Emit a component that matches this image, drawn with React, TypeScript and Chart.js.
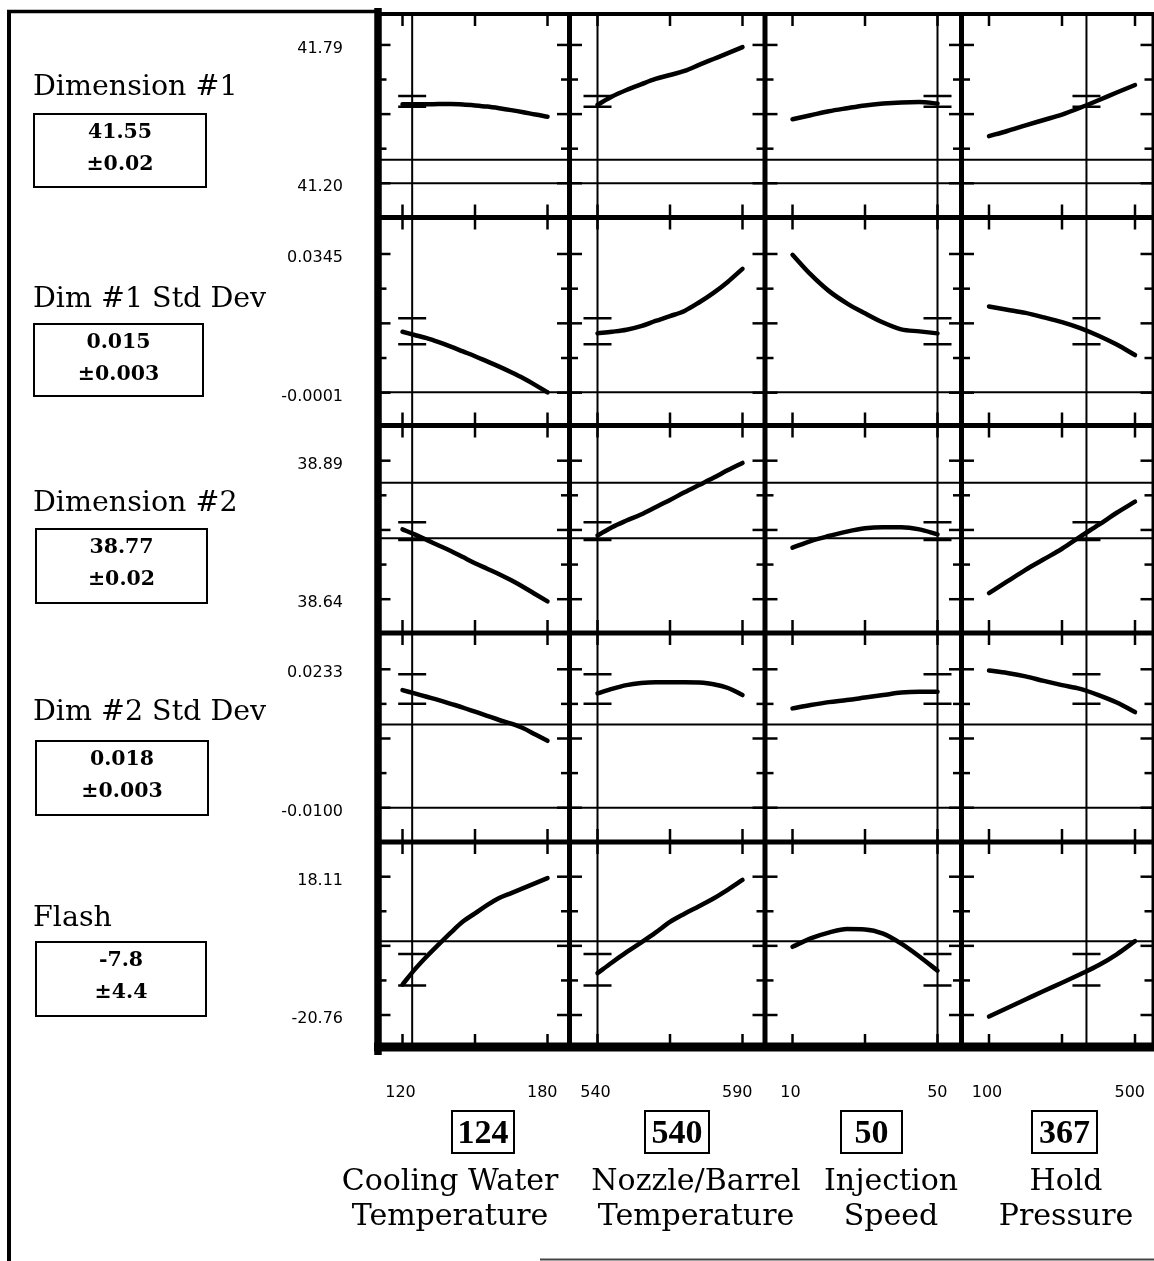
import React, { useEffect, useRef } from 'react';
import { Chart, registerables } from 'chart.js';

Chart.register(...registerables);

// ---------------- data ----------------
const responseNames = ['Dimension #1', 'Dim #1 Std Dev', 'Dimension #2', 'Dim #2 Std Dev', 'Flash'];
const predictedText = ['41.55', '0.015', '38.77', '0.018', '-7.8'];
const intervalText = ['±0.02', '±0.003', '±0.02', '±0.003', '±4.4'];
const yTopLabels = ['41.79', '0.0345', '38.89', '0.0233', '18.11'];
const yBottomLabels = ['41.20', '-0.0001', '38.64', '-0.0100', '-20.76'];
const yTopValues = [41.79, 0.0345, 38.89, 0.0233, 18.11];
const yBottomValues = [41.2, -0.0001, 38.64, -0.01, -20.76];
const yAxisMin = [41.054, -0.00828, 38.579, -0.01825, -29.75];
const yAxisMax = [41.922, 0.0436, 38.9535, 0.03203, 27.86];
const responseRefLines = [[41.3, 41.2], [0], [38.85, 38.75], [0.01, -0.01], [0]];
const ciUpper = [41.572, 0.0185, 38.779, 0.0221, -3.6];
const ciLower = [41.526, 0.012, 38.747, 0.015, -12.5];

const factorNames = [
  ['Cooling Water', 'Temperature'],
  ['Nozzle/Barrel', 'Temperature'],
  ['Injection', 'Speed'],
  ['Hold', 'Pressure'],
];
const factorCurrent = [124, 540, 50, 367];
const factorTicks = [[120, 150, 180], [540, 565, 590], [10, 30, 50], [100, 300, 500]];
const factorTickLabels = [['120', '180'], ['540', '590'], ['10', '50'], ['100', '500']];
const xAxisMin = [109.86, 530.34, 2.41, 24.66];
const xAxisMax = [189.1, 597.76, 56.62, 549.3];

const xCooling = [120, 125, 130, 135, 140, 145, 150, 155, 160, 165, 170, 175, 180];
const xNozzle = [540, 545, 550, 555, 560, 565, 570, 575, 580, 585, 590];
const xSpeed = [10, 15, 20, 25, 30, 35, 40, 45, 50];
const xHold = [100, 150, 200, 250, 300, 350, 400, 450, 500];

const dim1Cooling = [41.537, 41.537, 41.537, 41.538, 41.538, 41.536, 41.532, 41.527, 41.52, 41.512, 41.503, 41.493, 41.484];
const dim1Nozzle = [41.535, 41.57, 41.598, 41.622, 41.645, 41.662, 41.679, 41.705, 41.73, 41.755, 41.781];
const dim1Speed = [41.473, 41.49, 41.507, 41.52, 41.532, 41.54, 41.545, 41.547, 41.54];
const dim1Hold = [41.401, 41.423, 41.447, 41.47, 41.493, 41.522, 41.554, 41.587, 41.619];

const sd1Cooling = [0.0151, 0.0143, 0.0135, 0.0125, 0.0114, 0.0102, 0.009, 0.0077, 0.0064, 0.005, 0.0035, 0.0018, 0.0];
const sd1Nozzle = [0.0147, 0.0151, 0.0156, 0.0165, 0.0178, 0.019, 0.0203, 0.0224, 0.0248, 0.0276, 0.0308];
const sd1Speed = [0.0343, 0.0294, 0.0253, 0.0222, 0.0197, 0.0174, 0.0157, 0.0152, 0.0147];
const sd1Hold = [0.0214, 0.0206, 0.0198, 0.0187, 0.0175, 0.016, 0.0141, 0.0119, 0.0093];

const dim2Cooling = [38.766, 38.757, 38.747, 38.737, 38.727, 38.716, 38.705, 38.695, 38.685, 38.674, 38.662, 38.649, 38.636];
const dim2Nozzle = [38.755, 38.77, 38.782, 38.793, 38.806, 38.819, 38.833, 38.846, 38.859, 38.873, 38.886];
const dim2Speed = [38.733, 38.745, 38.754, 38.762, 38.768, 38.77, 38.77, 38.766, 38.757];
const dim2Hold = [38.651, 38.672, 38.693, 38.712, 38.731, 38.753, 38.774, 38.796, 38.816];

const sd2Cooling = [0.0183, 0.0175, 0.0167, 0.0159, 0.015, 0.0141, 0.0131, 0.0121, 0.0111, 0.0102, 0.0091, 0.0076, 0.0061];
const sd2Nozzle = [0.0175, 0.0186, 0.0195, 0.02, 0.0202, 0.0202, 0.0202, 0.0201, 0.0197, 0.0188, 0.0171];
const sd2Speed = [0.0139, 0.0147, 0.0154, 0.0159, 0.0165, 0.0171, 0.0177, 0.0179, 0.0179];
const sd2Hold = [0.023, 0.0224, 0.0216, 0.0205, 0.0195, 0.0186, 0.0171, 0.0153, 0.013];

const flashCooling = [-12.2, -8.0, -4.3, -0.9, 2.4, 5.5, 7.8, 10.1, 12.1, 13.5, 14.9, 16.3, 17.7];
const flashNozzle = [-9.0, -6.0, -3.1, -0.4, 2.4, 5.4, 7.7, 9.8, 12.0, 14.5, 17.2];
const flashSpeed = [-1.6, 0.8, 2.4, 3.4, 3.3, 2.1, -0.7, -4.3, -8.3];
const flashHold = [-21.2, -18.8, -16.4, -14.0, -11.7, -9.3, -6.8, -3.7, 0.0];

const factorGrids = [xCooling, xNozzle, xSpeed, xHold];
const profiles = [
  [dim1Cooling, dim1Nozzle, dim1Speed, dim1Hold],
  [sd1Cooling, sd1Nozzle, sd1Speed, sd1Hold],
  [dim2Cooling, dim2Nozzle, dim2Speed, dim2Hold],
  [sd2Cooling, sd2Nozzle, sd2Speed, sd2Hold],
  [flashCooling, flashNozzle, flashSpeed, flashHold],
];

// ---------------- layout ----------------
const W = 1154;
const H = 1261;
const PAD = { left: 378, top: 14, right: 1, bottom: 214 };
const ROW_WEIGHTS = [203.5, 208, 207.5, 209, 205];
const COL_WEIGHTS = [191.5, 195.5, 196.5, 191.5];
const LABEL_BASELINES = [96, 308, 512, 721, 927];
const VALUE_BOXES = [
  { x: 33, y: 113, w: 174, h: 75 },
  { x: 33, y: 323, w: 171, h: 74 },
  { x: 35, y: 528, w: 173, h: 76 },
  { x: 35, y: 740, w: 174, h: 76 },
  { x: 35, y: 941, w: 172, h: 76 },
];
const FACTOR_BOXES = [
  { x: 451, w: 64 },
  { x: 644, w: 66 },
  { x: 840, w: 63 },
  { x: 1031, w: 67 },
];
const FACTOR_NAME_CENTERS = [450, 696, 891, 1066];

const profilerPlugin = {
  id: 'profilerFrame',
  beforeDatasetsDraw(chart: any) {
    const ctx = chart.ctx;
    const xs = factorCurrent.map((_, c) => chart.scales['x' + c]);
    const ys = responseNames.map((_, r) => chart.scales['y' + r]);
    const L = xs[0].left;
    const R = xs[xs.length - 1].right;
    const T = ys[0].top;
    const B = ys[ys.length - 1].bottom;
    const seg = (x1: number, y1: number, x2: number, y2: number, w: number) => {
      ctx.lineWidth = w;
      ctx.beginPath();
      ctx.moveTo(x1, y1);
      ctx.lineTo(x2, y2);
      ctx.stroke();
    };
    ctx.save();
    ctx.strokeStyle = '#000';
    ctx.lineCap = 'butt';

    // left panel frame
    seg(7, 11.5, L, 11.5, 3.5);
    seg(9, 10, 9, H, 4);
    ctx.strokeStyle = '#444';
    seg(540, 1259.5, W, 1259.5, 2);
    ctx.strokeStyle = '#000';

    // reference lines
    ys.forEach((s: any, r: number) =>
      responseRefLines[r].forEach((v) => {
        const y = s.getPixelForValue(v);
        seg(L, y, R, y, 2);
      })
    );
    xs.forEach((s: any, c: number) => {
      const x = s.getPixelForValue(factorCurrent[c]);
      seg(x, T, x, B, 2);
    });

    // x ticks on every row boundary
    const rowEdges = [T, ...ys.map((s: any) => s.bottom)];
    xs.forEach((s: any, c: number) =>
      factorTicks[c].forEach((v) => {
        const x = s.getPixelForValue(v);
        rowEdges.forEach((y: number, b: number) => {
          const up = b === 0 ? 0 : 13;
          const down = b === rowEdges.length - 1 ? 0 : 12;
          seg(x, y - up, x, y + down, 2.5);
        });
      })
    );

    // y ticks on every column boundary
    const colEdges = [L, ...xs.map((s: any) => s.right)];
    ys.forEach((s: any, r: number) => {
      for (let k = 0; k <= 4; k++) {
        const v = yBottomValues[r] + ((yTopValues[r] - yBottomValues[r]) * k) / 4;
        const y = s.getPixelForValue(v);
        const len = k % 2 === 0 ? 12.5 : 8.5;
        colEdges.forEach((x: number, b: number) => {
          const l = b === 0 ? 0 : len;
          const rr = b === colEdges.length - 1 ? 0 : len;
          seg(x - l, y, x + rr, y, 2.5);
        });
      }
    });

    // separators
    seg(L, T, R + 1, T, 4);
    ys.slice(0, -1).forEach((s: any) => seg(L, s.bottom, R, s.bottom, 5));
    seg(L - 4, B, R + 1, B, 9);
    seg(L, 8, L, B + 8, 7.5);
    xs.slice(0, -1).forEach((s: any) => seg(s.right, T, s.right, B, 5));
    seg(R, T, R, B, 3);

    // tick labels
    ctx.fillStyle = '#000';
    ctx.font = '16px "DejaVu Sans"';
    ctx.textBaseline = 'alphabetic';
    ctx.textAlign = 'right';
    ys.forEach((s: any, r: number) => {
      ctx.fillText(yTopLabels[r], 343, s.getPixelForValue(yTopValues[r]) + 8);
      ctx.fillText(yBottomLabels[r], 343, s.getPixelForValue(yBottomValues[r]) + 8);
    });
    xs.forEach((s: any, c: number) => {
      const t = factorTicks[c];
      ctx.textAlign = 'center';
      ctx.fillText(factorTickLabels[c][0], s.getPixelForValue(t[0]) - 2, 1097);
      ctx.textAlign = 'right';
      ctx.fillText(factorTickLabels[c][1], s.getPixelForValue(t[t.length - 1]) + 10, 1097);
    });
    ctx.restore();
  },
};

function buildConfig(): any {
  const scales: any = {};
  factorCurrent.forEach((_, c) => {
    scales['x' + c] = {
      type: 'linear',
      position: 'bottom',
      stack: 'factors',
      stackWeight: COL_WEIGHTS[c],
      weight: c + 1,
      min: xAxisMin[c],
      max: xAxisMax[c],
      display: false,
    };
  });
  responseNames.forEach((_, r) => {
    scales['y' + r] = {
      type: 'linear',
      position: 'left',
      stack: 'responses',
      stackWeight: ROW_WEIGHTS[r],
      weight: responseNames.length - r,
      min: yAxisMin[r],
      max: yAxisMax[r],
      display: false,
    };
  });

  const datasets: any[] = [];
  profiles.forEach((row, r) =>
    row.forEach((vals, c) => {
      datasets.push({
        label: responseNames[r] + ' / ' + factorNames[c].join(' '),
        data: factorGrids[c].map((x, i) => ({ x, y: vals[i] })),
        xAxisID: 'x' + c,
        yAxisID: 'y' + r,
        borderColor: '#000',
        borderWidth: 4.5,
        borderCapStyle: 'round',
        pointRadius: 0,
        cubicInterpolationMode: 'monotone',
        fill: false,
      });
      datasets.push({
        label: 'interval',
        data: [
          { x: factorCurrent[c], y: ciUpper[r] },
          { x: factorCurrent[c], y: ciLower[r] },
        ],
        xAxisID: 'x' + c,
        yAxisID: 'y' + r,
        showLine: false,
        pointStyle: 'line',
        pointRadius: 14,
        pointHoverRadius: 14,
        pointBorderWidth: 2.5,
        pointBorderColor: '#000',
        borderColor: '#000',
      });
    })
  );

  return {
    type: 'line',
    data: { datasets },
    options: {
      responsive: false,
      animation: false,
      events: [],
      layout: { padding: PAD, autoPadding: false },
      plugins: { legend: { display: false }, tooltip: { enabled: false }, title: { display: false } },
      scales,
    },
    plugins: [profilerPlugin],
  };
}

const ASC = 0.846;

function Txt(props: { x: number; baseline: number; size: number; family?: string; bold?: boolean; align?: string; children: any }) {
  const { x, baseline, size, family = '"DejaVu Serif"', bold = false, align = 'left', children } = props;
  const style: any = {
    position: 'absolute',
    left: x,
    top: baseline - ASC * size,
    fontFamily: family,
    fontSize: size,
    fontWeight: bold ? 700 : 400,
    lineHeight: size + 'px',
    whiteSpace: 'nowrap',
    color: '#000',
  };
  if (align === 'center') style.transform = 'translateX(-50%)';
  if (align === 'right') style.transform = 'translateX(-100%)';
  return <div style={style}>{children}</div>;
}

export default function App() {
  const canvasRef = useRef<HTMLCanvasElement>(null);
  useEffect(() => {
    const chart = new Chart(canvasRef.current as HTMLCanvasElement, buildConfig());
    return () => chart.destroy();
  }, []);

  return (
    <div style={{ position: 'fixed', left: 0, top: 0, width: W, height: H, background: '#fff', overflow: 'hidden' }}>
      <canvas ref={canvasRef} width={W} height={H} style={{ position: 'absolute', left: 0, top: 0, width: W, height: H }} />
      {responseNames.map((name, r) => (
        <Txt key={'n' + r} x={33} baseline={LABEL_BASELINES[r]} size={28.5}>
          {name}
        </Txt>
      ))}
      {VALUE_BOXES.map((b, r) => (
        <div
          key={'b' + r}
          style={{ position: 'absolute', left: b.x, top: b.y, width: b.w, height: b.h, border: '2px solid #000', boxSizing: 'border-box' }}
        />
      ))}
      {VALUE_BOXES.map((b, r) => (
        <Txt key={'p' + r} x={b.x + b.w / 2} baseline={b.y + 25} size={20.5} bold align="center">
          {predictedText[r]}
        </Txt>
      ))}
      {VALUE_BOXES.map((b, r) => (
        <Txt key={'i' + r} x={b.x + b.w / 2} baseline={b.y + 57} size={20.5} bold align="center">
          {intervalText[r]}
        </Txt>
      ))}
      {FACTOR_BOXES.map((b, c) => (
        <div
          key={'fb' + c}
          style={{ position: 'absolute', left: b.x, top: 1110, width: b.w, height: 44, border: '2px solid #000', boxSizing: 'border-box' }}
        />
      ))}
      {FACTOR_BOXES.map((b, c) => (
        <Txt key={'fv' + c} x={b.x + b.w / 2} baseline={1144} size={34} family='"Liberation Serif"' bold align="center">
          {String(factorCurrent[c])}
        </Txt>
      ))}
      {factorNames.map((lines, c) =>
        lines.map((line, k) => (
          <Txt key={'fn' + c + '_' + k} x={FACTOR_NAME_CENTERS[c]} baseline={1190 + k * 35} size={30} align="center">
            {line}
          </Txt>
        ))
      )}
    </div>
  );
}
